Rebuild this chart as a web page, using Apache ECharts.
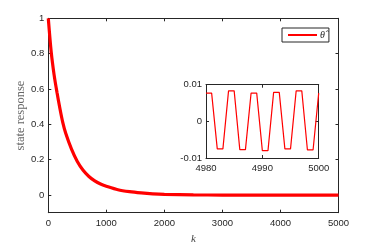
<!DOCTYPE html>
<html><head><meta charset="utf-8">
<script src="https://cdn.jsdelivr.net/npm/echarts@6/dist/echarts.min.js"></script>
<style>html,body{margin:0;padding:0;background:#fff}#c{width:374px;height:243px}</style>
</head><body><div id="c"></div>
<script>
// Main response curve
const mainK = [0, 50, 100, 150, 200, 250, 300, 400, 500, 600, 700, 800, 900, 1000, 1200, 1400, 1600, 1800, 2000, 2500, 3000, 4000, 5000];
const mainV = [1, 0.81, 0.68, 0.58, 0.49, 0.41, 0.35, 0.26, 0.19, 0.14, 0.105, 0.08, 0.062, 0.05, 0.03, 0.019, 0.012, 0.007, 0.004, 0.001, 0, 0, 0];
// Inset: last samples
const insetK = [4980, 4981, 4982, 4983, 4984, 4985, 4986, 4987, 4988, 4989, 4990, 4991, 4992, 4993, 4994, 4995, 4996, 4997, 4998, 4999, 5000];
const insetV = [0.0077, 0.0077, -0.0075, -0.0075, 0.0083, 0.0083, -0.0077, -0.0077, 0.0077, 0.0077, -0.008, -0.008, 0.0079, 0.0079, -0.0075, -0.0075, 0.0083, 0.0083, -0.0078, -0.0078, 0.0077];
const mainXTicks = [0, 1000, 2000, 3000, 4000, 5000];
const mainYTicks = [0, 0.2, 0.4, 0.6, 0.8, 1];
const seriesName = 'θ\u0302';

const axCol = '#262626';
const lbl = {color: axCol, fontFamily: 'Liberation Sans', fontSize: 9.5, formatter: v => String(v)};
function ax(extra) {
  return Object.assign({
    axisLine: {show: true, onZero: false, lineStyle: {color: axCol, width: 1}},
    axisTick: {show: true, inside: true, length: 3, lineStyle: {color: axCol}},
    splitLine: {show: false}
  }, extra);
}
const chart = echarts.init(document.getElementById('c'), null, {renderer: 'canvas'});
chart.setOption({
  animation: false,
  backgroundColor: '#fff',
  grid: [
    {left: 48.3, right: 35.5, top: 18.3, bottom: 30.3, show: false, outerBoundsMode: 'none', containLabel: false},
    {left: 206, right: 55.3, top: 84.7, bottom: 85, show: true, backgroundColor: '#fff', borderWidth: 0, outerBoundsMode: 'none', containLabel: false}
  ],
  legend: {
    data: [seriesName], left: 282, top: 28, width: 47, height: 15,
    padding: [2, 4, 2, 6], itemWidth: 29, itemHeight: 2, icon: 'rect',
    borderColor: axCol, borderWidth: 1, borderRadius: 0, backgroundColor: '#fff',
    itemGap: 3,
    textStyle: {fontFamily: 'Liberation Serif', fontStyle: 'italic', fontSize: 10, color: axCol, padding: [0, 0, 0, -2]}
  },
  xAxis: [
    ax({gridIndex: 0, type: 'value', min: 0, max: 5000, interval: 1000, position: 'bottom',
        axisLabel: Object.assign({}, lbl, {margin: 6}),
        name: 'k', nameLocation: 'middle', nameGap: 18,
        nameTextStyle: {fontFamily: 'Liberation Serif', fontStyle: 'italic', fontSize: 11, color: '#444'}}),
    ax({gridIndex: 0, type: 'value', min: 0, max: 5000, interval: 1000, position: 'top', axisLabel: {show: false}}),
    ax({gridIndex: 1, type: 'value', min: 4980, max: 5000, interval: 10, position: 'bottom',
        axisLabel: Object.assign({}, lbl, {margin: 5})}),
    ax({gridIndex: 1, type: 'value', min: 4980, max: 5000, interval: 10, position: 'top', axisLabel: {show: false}})
  ],
  yAxis: [
    ax({gridIndex: 0, type: 'value', min: -0.1, max: 1, position: 'left',
        axisTick: {show: true, inside: true, length: 3, lineStyle: {color: axCol}, customValues: mainYTicks},
        axisLabel: Object.assign({}, lbl, {margin: 4, customValues: mainYTicks}),
        name: 'state response', nameLocation: 'middle', nameGap: 21, nameMoveOverlap: false,
        nameTextStyle: {fontFamily: 'Liberation Serif', fontSize: 12.5, color: '#666'}}),
    ax({gridIndex: 0, type: 'value', min: -0.1, max: 1, position: 'right',
        axisTick: {show: true, inside: true, length: 3, lineStyle: {color: axCol}, customValues: mainYTicks},
        axisLabel: {show: false}}),
    ax({gridIndex: 1, type: 'value', min: -0.01, max: 0.01, interval: 0.01, position: 'left',
        axisLabel: Object.assign({}, lbl, {margin: 4})}),
    ax({gridIndex: 1, type: 'value', min: -0.01, max: 0.01, interval: 0.01, position: 'right', axisLabel: {show: false}})
  ],
  series: [
    {name: seriesName, type: 'line', xAxisIndex: 0, yAxisIndex: 0, smooth: 0.3, showSymbol: false,
     lineStyle: {color: '#ff0000', width: 3.2}, itemStyle: {color: '#ff0000'},
     data: mainK.map((k, i) => [k, mainV[i]])},
    {name: 'inset', type: 'line', xAxisIndex: 2, yAxisIndex: 2, showSymbol: false,
     lineStyle: {color: '#ff0000', width: 1.2}, itemStyle: {color: '#ff0000'},
     data: insetK.map((k, i) => [k, insetV[i]])}
  ]
});
</script></body></html>
